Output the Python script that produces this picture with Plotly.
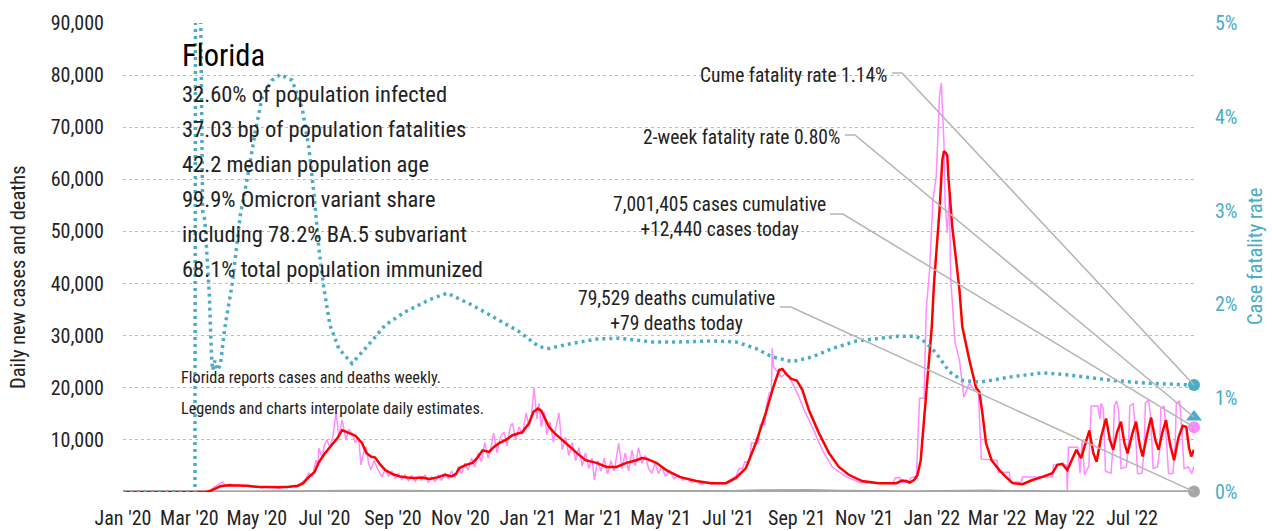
import pandas as pd
import plotly.graph_objects as go

# ---------------- data (days since 2020-01-01) ----------------
START = "2020-01-01"
END_DAY = 968  # 2022-08-26

cases_avg_day = [0, 75, 80, 88, 95, 105, 112, 120, 130, 140, 150, 158, 163, 168, 173, 177, 182, 186, 190, 194, 198,
                 203, 210, 216, 220, 224, 228, 232, 237, 244, 250, 257, 264, 270, 277, 284, 291, 297, 301, 304, 310,
                 316, 320, 325, 331, 335, 340, 346, 352, 361, 367, 371, 375, 378, 382, 385, 390, 394, 400, 405, 410,
                 418, 428, 437, 446, 455, 464, 469, 473, 482, 491, 503, 518, 532, 545, 554, 563, 572, 581, 587, 593,
                 596, 600, 604, 609, 614, 620, 629, 638, 647, 656, 668, 683, 699, 704, 708, 711, 715, 718, 721, 726,
                 731, 733, 736, 738, 740.5, 742, 744, 745, 746, 749.5, 753, 756, 758.6, 765, 771, 774, 776.7, 780,
                 785, 792, 798, 804, 813, 822, 831, 840, 844.5, 849, 853.5, 858, 861.7, 866, 870, 873.4, 877, 880,
                 884, 888.5, 892, 895, 898.5, 902, 905, 908, 912, 915.6, 919, 921.6, 925.5, 929.2, 933, 936, 939.5,
                 942.7, 946.5, 950, 954, 957.8, 961, 963.5, 965.5, 968]
cases_avg = [0, 0, 300, 1100, 1300, 1300, 1200, 1000, 900, 900, 1000, 1200, 1700, 2900, 3800, 5700, 7300, 8400, 9300,
             10400, 11900, 11400, 10800, 9400, 7500, 6800, 6600, 5400, 4200, 3400, 3000, 2800, 2700, 2800, 2500, 2800,
             3300, 3000, 3500, 4600, 5200, 5600, 6500, 8000, 7700, 8600, 9400, 10000, 10900, 11500, 13200, 15400,
             16000, 15600, 13800, 12500, 11300, 10600, 9400, 8500, 7500, 6100, 5600, 4800, 4800, 5600, 6100, 6500,
             6400, 5600, 4200, 2900, 2100, 1700, 1700, 2700, 4600, 9400, 15200, 19600, 23400, 23600, 22500, 21700,
             21400, 19600, 15700, 11300, 7500, 4800, 3300, 2100, 1700, 1700, 2200, 2100, 1800, 2300, 3200, 6100,
             19000, 31700, 40000, 48000, 54100, 63700, 65400, 65000, 64500, 60500, 50900, 44500, 38800, 31700, 25300,
             20000, 19200, 15200, 9400, 6100, 4200, 2900, 1700, 1500, 2300, 2900, 3600, 5200, 5400, 4200, 6500, 8100,
             6500, 9500, 11800, 7500, 5800, 10500, 14100, 10000, 8100, 11500, 13500, 9500, 7400, 11000, 13500, 9000,
             6800, 11000, 14300, 10000, 8100, 11500, 13800, 9000, 6100, 10500, 12700, 12500, 8500, 6800, 8100]

cases_daily_day = [0, 70, 78, 82, 86, 90, 93, 97, 101, 105, 109, 113, 117, 121, 125, 129, 133, 137, 141, 145, 149, 153,
                   157, 160, 163, 165, 168, 171, 174.5, 176, 177, 180, 182, 184.5, 187, 190, 192.6, 195, 198, 201.6,
                   204, 207, 210, 213, 215, 218, 220, 222, 224, 227, 230, 234, 237, 240, 243, 246, 249, 252, 255, 258,
                   261, 264, 267, 270, 273, 276, 279, 282, 285, 288, 291, 294, 297, 300, 303, 306, 309, 312, 315, 318,
                   321, 324, 327, 330, 333, 335, 338, 341, 344.5, 347, 350, 352, 355, 358, 361, 364.4, 367, 369, 371.6,
                   374, 376, 378, 380.7, 383, 386, 389, 391, 394, 397, 400, 403, 406, 409, 412, 415, 418, 421, 424,
                   426, 429, 432, 435, 438, 441, 444, 446, 448, 451, 454, 457, 460, 463, 466, 469, 472, 475, 478, 481,
                   484, 487, 490, 494, 498, 502, 506, 510, 514, 518, 522, 527, 532, 537, 542, 546, 550, 554, 557, 560,
                   562, 566, 568, 574, 576, 580, 581.4, 584, 586, 586.8, 588, 590.4, 595, 599.5, 605, 611, 615.7, 623,
                   632, 641, 653.7, 662, 666, 680, 696, 698, 702, 704, 710, 712, 715, 717, 718, 720, 724, 726, 729,
                   732, 735, 738, 739.6, 740.5, 742, 743, 745, 747, 748, 752, 756, 760, 765, 769, 773, 775.8, 790, 791,
                   801, 802, 812, 813, 840, 841, 852.6, 853.5, 854.5, 863, 865, 867, 869, 873, 875, 881, 883, 884, 886,
                   888, 893, 895, 896, 898, 900, 902, 907, 909, 910, 913, 915, 917, 921, 923, 924, 927, 929, 931, 935,
                   937, 938, 941, 943, 945, 949, 951, 952, 955, 957, 959, 963, 966, 968]
cases_daily = [0, 0, 200, 900, 1400, 1900, 1100, 1500, 1100, 1400, 1000, 1300, 900, 1200, 700, 1000, 800, 1100, 700,
               1000, 800, 1200, 900, 1500, 2000, 2500, 3600, 3000, 6100, 5000, 8400, 6500, 9000, 10000, 8500, 11000,
               15400, 10500, 13800, 10000, 12000, 11300, 9500, 10500, 5200, 8000, 8600, 5500, 4200, 6000, 4500, 2900,
               4500, 3000, 4000, 2600, 3500, 2400, 3300, 2200, 3100, 2000, 3000, 2300, 3300, 1800, 2900, 2000, 3200,
               2200, 3600, 2500, 4000, 2800, 4800, 3500, 5500, 4200, 6500, 4800, 7500, 5800, 9500, 6500, 9000, 11300,
               7500, 10500, 11500, 8800, 12500, 13200, 10000, 12500, 11000, 15200, 12500, 14500, 20000, 14000, 17000,
               12500, 15400, 11000, 13500, 9500, 12000, 15200, 8100, 10500, 7000, 9500, 6000, 8500, 5000, 7500, 4500,
               6500, 2300, 6000, 4000, 6500, 3500, 6000, 4000, 7000, 9400, 4500, 7500, 4000, 8000, 5000, 8500, 5500,
               7000, 4500, 3600, 5500, 3500, 5000, 3000, 4000, 2500, 3200, 2300, 2600, 1800, 2200, 1500, 1800, 1500,
               1700, 1500, 2000, 2500, 3000, 4500, 4500, 5800, 5800, 9400, 9400, 13000, 13000, 16300, 19000, 19000,
               27600, 24000, 23400, 22100, 22800, 20900, 18200, 15700, 12500, 8100, 4800, 2900, 2200, 1800, 1700, 1700,
               2700, 2800, 1800, 1800, 2700, 2900, 2600, 8000, 18000, 18000, 35000, 42600, 56000, 60500, 76000, 78500,
               74000, 67000, 55500, 49700, 57400, 41300, 28600, 25300, 18200, 20900, 19600, 19600, 6300, 6100, 3800,
               3800, 1900, 1900, 2900, 2900, 5200, 5200, 400, 8600, 8600, 3600, 10000, 3300, 5000, 16500, 16500, 14000,
               17000, 16000, 4000, 3600, 9000, 16500, 17500, 15500, 4500, 4800, 10000, 16500, 17000, 12000, 3500, 3600,
               8000, 17000, 17700, 14000, 4500, 4800, 8000, 16000, 16500, 10000, 3500, 3600, 9000, 17000, 17500, 12000,
               4500, 4800, 3500, 5000]

deaths_day = [0, 75, 85, 100, 120, 150, 180, 200, 215, 230, 250, 280, 310, 340, 370, 400, 430, 460, 490, 520, 550,
              575, 600, 620, 650, 680, 710, 740, 760, 780, 800, 830, 870, 900, 930, 968]
deaths = [0, 0, 20, 50, 50, 40, 80, 150, 180, 160, 120, 90, 80, 100, 150, 140, 90, 70, 50, 40, 80, 250, 350, 300,
          120, 40, 30, 80, 150, 180, 100, 40, 40, 50, 50, 45]

cfr_day = [0, 65, 66, 72, 74, 78, 80, 81, 83, 85, 88, 92, 99, 106, 114, 119.5, 125.6, 134.7, 142, 152.8, 162, 168,
           172.7, 177, 181.6, 187, 195, 207, 222, 237, 255, 277, 293, 316, 340, 358, 376, 385, 400, 428, 448, 478,
           502.7, 532.5, 554, 572, 586.8, 605, 623, 641, 663, 683.5, 700, 717, 726, 735, 747, 758.6, 774, 804, 831,
           853, 894, 925, 968]
cfr_pct = [0, 0, 10, 3.0, 2.9, 2.1, 1.45, 1.3, 1.4, 1.3, 1.35, 1.75, 2.24, 2.95, 3.45, 3.84, 4.2, 4.39, 4.45, 4.39,
           4.09, 3.67, 3.17, 2.6, 2.17, 1.78, 1.53, 1.37, 1.57, 1.78, 1.92, 2.05, 2.12, 1.99, 1.83, 1.71, 1.55, 1.53,
           1.57, 1.63, 1.64, 1.60, 1.60, 1.61, 1.60, 1.53, 1.44, 1.39, 1.44, 1.53, 1.61, 1.64, 1.66, 1.66, 1.59, 1.48,
           1.28, 1.19, 1.17, 1.23, 1.27, 1.25, 1.19, 1.16, 1.14]

cume_fatality_rate = 1.14
two_week_fatality_rate = 0.80
cases_today = 12440
deaths_today = 79

stats_lines = ["32.60% of population infected", "37.03 bp of population fatalities", "42.2 median population age",
               "99.9% Omicron variant share", "including 78.2% BA.5 subvariant", "68.1% total population immunized"]
note_lines = ["Florida reports cases and deaths weekly.", "Legends and charts interpolate daily estimates."]
y_ticks = [10000, 20000, 30000, 40000, 50000, 60000, 70000, 80000, 90000]
y2_ticks = [0, 1, 2, 3, 4, 5]
y2_labels = ["0%", "1%", "2%", "3%", "4%", "5%"]

# ---------------- helpers ----------------
t0 = pd.Timestamp(START)


def to_dates(days):
    return [t0 + pd.to_timedelta(d, unit="D") for d in days]


FONT = "Roboto Condensed, Roboto, sans-serif"
TEAL = "#4BACC6"
PINK = "#FF8CFF"
RED = "#FF0000"
GRAY = "#A6A6A6"
TXT = "#222222"

W, H = 1272, 531
L, R, T, B = 123, 78, 23, 39
PW, PH = W - L - R, H - T - B


def px(x):
    return (x - L) / PW


def py(y):
    return (H - B - y) / PH


end_date = t0 + pd.to_timedelta(END_DAY, unit="D")

fig = go.Figure()
fig.add_trace(go.Scatter(x=to_dates(deaths_day), y=deaths, mode="lines",
                         line=dict(color=GRAY, width=3), hoverinfo="skip"))
fig.add_trace(go.Scatter(x=to_dates(cases_daily_day), y=cases_daily, mode="lines",
                         line=dict(color=PINK, width=1.5), hoverinfo="skip"))
fig.add_trace(go.Scatter(x=to_dates(cases_avg_day), y=cases_avg, mode="lines",
                         line=dict(color=RED, width=2.5), hoverinfo="skip"))
fig.add_trace(go.Scatter(x=to_dates(cfr_day), y=cfr_pct, mode="lines", yaxis="y2",
                         line=dict(color=TEAL, width=3.5, dash="3px,4px"), hoverinfo="skip"))

# end markers
fig.add_trace(go.Scatter(x=[end_date], y=[deaths_today], mode="markers", cliponaxis=False,
                         marker=dict(color=GRAY, size=12), hoverinfo="skip"))
fig.add_trace(go.Scatter(x=[end_date], y=[cases_today], mode="markers", cliponaxis=False,
                         marker=dict(color=PINK, size=12), hoverinfo="skip"))
fig.add_trace(go.Scatter(x=[end_date], y=[two_week_fatality_rate], mode="markers", yaxis="y2", cliponaxis=False,
                         marker=dict(color=TEAL, size=14, symbol="triangle-up"), hoverinfo="skip"))
fig.add_trace(go.Scatter(x=[end_date], y=[cume_fatality_rate], mode="markers", yaxis="y2", cliponaxis=False,
                         marker=dict(color=TEAL, size=12), hoverinfo="skip"))

annotations = []
annotations.append(dict(x=px(180), y=py(55), xref="paper", yref="paper", text="Florida", showarrow=False,
                        xanchor="left", yanchor="middle", font=dict(size=30.5, color="#000")))
for i, s in enumerate(stats_lines):
    annotations.append(dict(x=px(180), y=py(94 + 35 * i), xref="paper", yref="paper", text=s, showarrow=False,
                            xanchor="left", yanchor="middle", font=dict(size=22.5, color=TXT)))
for i, s in enumerate(note_lines):
    annotations.append(dict(x=px(179), y=py(377 + 31 * i), xref="paper", yref="paper", text=s, showarrow=False,
                            xanchor="left", yanchor="middle", font=dict(size=16.2, color=TXT)))

labels = [
    (f"Cume fatality rate {cume_fatality_rate:.2f}%", 889, 75),
    (f"2-week fatality rate {two_week_fatality_rate:.2f}%", 842, 137),
    (f"7,001,405 cases cumulative<br>+{cases_today:,} cases today", 828, 217),
    (f"79,529 deaths cumulative<br>+{deaths_today} deaths today", 777, 311),
]
for text, xr, yc in labels:
    annotations.append(dict(x=px(xr), y=py(yc), xref="paper", yref="paper", text=text, showarrow=False,
                            xanchor="right", yanchor="middle", align="center", font=dict(size=19.5, color=TXT)))

# axis titles
annotations.append(dict(x=px(18), y=py(277), xref="paper", yref="paper", text="Daily new cases and deaths",
                        showarrow=False, textangle=-90, xanchor="center", yanchor="middle",
                        font=dict(size=20.5, color=TXT)))
annotations.append(dict(x=px(1255), y=py(257), xref="paper", yref="paper", text="Case fatality rate",
                        showarrow=False, textangle=-90, xanchor="center", yanchor="middle",
                        font=dict(size=20.5, color=TEAL)))

# leader lines: elbow start (pixel layout) -> end marker (data)
leaders = [
    ((892, 73), (902, 73), cume_fatality_rate / 5.0),
    ((845, 135), (855, 135), two_week_fatality_rate / 5.0),
    ((830, 214), (843, 214), cases_today / 90000.0),
    ((780, 307), (791, 307), deaths_today / 90000.0),
]
shapes = []
for (a, b, yend) in leaders:
    path = f"M {px(a[0])} {py(a[1])} L {px(b[0])} {py(b[1])} L 1 {yend}"
    shapes.append(dict(type="path", xref="paper", yref="paper", path=path,
                       line=dict(color="#B4B4B4", width=1.5), layer="above"))

fig.update_layout(
    width=W, height=H,
    margin=dict(l=L, r=R, t=T, b=B, pad=0, autoexpand=False),
    paper_bgcolor="white", plot_bgcolor="white",
    showlegend=False,
    font=dict(family=FONT, size=20, color=TXT),
    annotations=annotations,
    shapes=shapes,
    xaxis=dict(type="date", range=[t0, end_date], tick0=START, dtick="M2", tickformat="%b '%y", tickangle=0,
               showgrid=False, zeroline=False, showline=False, ticks="", ticklabelstandoff=12, automargin=False,
               tickfont=dict(size=20, color=TXT)),
    yaxis=dict(range=[0, 90000], tickvals=y_ticks, tickformat=",", showgrid=True, gridcolor="#BDBDBD",
               griddash="dot", gridwidth=1, zeroline=False, showline=False, ticks="", ticklabelstandoff=18,
               automargin=False, tickfont=dict(size=20, color=TXT)),
    yaxis2=dict(range=[0, 5], tickvals=y2_ticks, ticktext=y2_labels, overlaying="y", side="right", showgrid=False,
                zeroline=False, showline=False, ticks="", ticklabelstandoff=20, automargin=False,
                tickfont=dict(size=20, color=TEAL)),
)

fig.write_html("out.html", config={"displayModeBar": False},
               post_script="document.body.style.margin='0';")
